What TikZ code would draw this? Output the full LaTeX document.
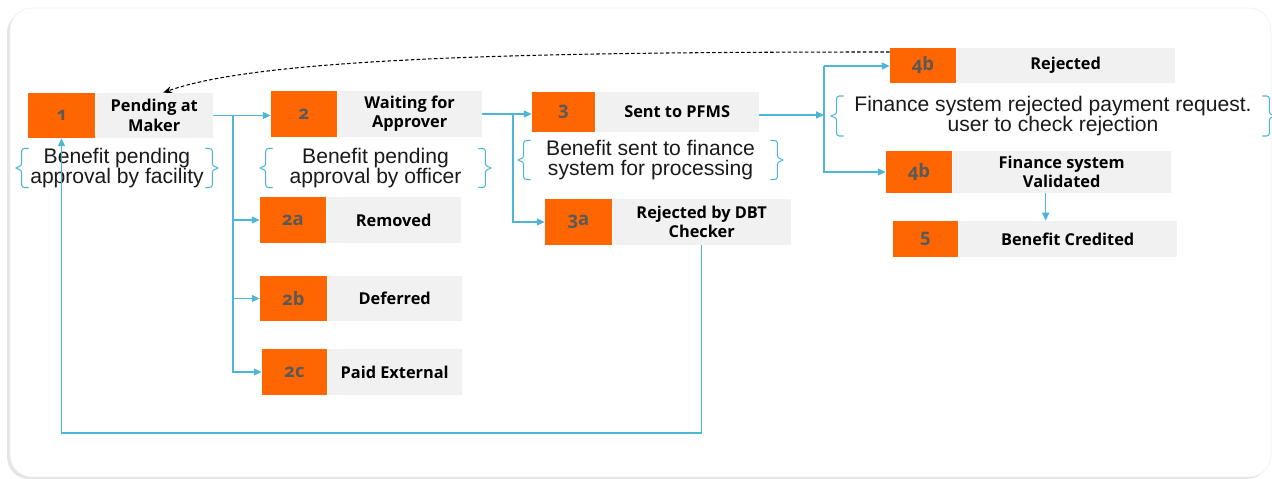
\documentclass[tikz,border=0pt]{standalone}
\usepackage{fontspec}
\setmainfont{Liberation Sans}
\newfontfamily\lblfamily{Open Sans}
\newfontfamily\numfamily[Numbers=OldStyle]{Open Sans}
\usetikzlibrary{arrows.meta}

\definecolor{boxorange}{HTML}{FF6600}
\definecolor{boxgrey}{HTML}{F1F1F1}
\definecolor{linkblue}{HTML}{4DB6D6}
\definecolor{numgrey}{HTML}{595959}
\definecolor{notetext}{HTML}{1A1A1A}

\tikzset{
  numbox/.style={fill=boxorange, text=numgrey, inner sep=0pt,
    font=\numfamily\bfseries\fontsize{10.5pt}{12pt}\selectfont},
  lblbox/.style={fill=boxgrey, anchor=west, align=center, inner sep=0pt,
    font=\lblfamily\bfseries\fontsize{9.3pt}{11pt}\selectfont},
  note/.style={text=notetext, align=center, inner sep=0pt,
    font=\fontsize{12pt}{11.3pt}\selectfont},
  link/.style={draw=linkblue, line width=0.7pt, -{Triangle[length=4.5pt,width=4pt]}},
  brc/.style={draw=linkblue, line width=0.6pt, rounded corners=1.5pt},
  lbr/.style={insert path={-- ++(-7,0) -- ++(0,#1) -- ++(-7,2) -- ++(7,2) -- ++(0,#1) -- ++(7,0)}},
  rbr/.style={insert path={-- ++(7,0) -- ++(0,#1) -- ++(7,2) -- ++(-7,2) -- ++(0,#1) -- ++(-7,0)}},
}

\begin{document}
\begin{tikzpicture}[x=0.02cm, y=-0.02cm]
  \useasboundingbox (0,0) rectangle (1272,479);
  % panel
  \fill[black!10, rounded corners=0.44cm] (7,11) rectangle (1269,479);
  \filldraw[fill=white, draw=black!6, rounded corners=0.44cm] (10,8) rectangle (1271,477);

  % steps
  \node[numbox, minimum width=1.34cm, minimum height=0.9cm] (n1) at (61.5,115.5) {1};
  \node[lblbox, minimum width=2.34cm, minimum height=0.9cm] (s1) at (n1.east) {Pending at\\Maker};
  \node[numbox, minimum width=1.32cm, minimum height=0.92cm] (n2) at (304,114) {2};
  \node[lblbox, minimum width=2.88cm, minimum height=0.92cm] (s2) at (n2.east) {Waiting for\\Approver};
  \node[numbox, minimum width=1.32cm, minimum height=0.92cm] (n2a) at (293,220) {2a};
  \node[lblbox, minimum width=2.68cm, minimum height=0.92cm] (s2a) at (n2a.east) {Removed};
  \node[numbox, minimum width=1.34cm, minimum height=0.9cm] (n2b) at (293.5,298.5) {2b};
  \node[lblbox, minimum width=2.68cm, minimum height=0.9cm] (s2b) at (n2b.east) {Deferred};
  \node[numbox, minimum width=1.3cm, minimum height=0.92cm] (n2c) at (294.5,372) {2c};
  \node[lblbox, minimum width=2.68cm, minimum height=0.92cm] (s2c) at (n2c.east) {Paid External};
  \node[numbox, minimum width=1.26cm, minimum height=0.8cm] (n3) at (563.5,112) {3};
  \node[lblbox, minimum width=3.26cm, minimum height=0.8cm] (s3) at (n3.east) {Sent to PFMS};
  \node[numbox, minimum width=1.34cm, minimum height=0.92cm] (n3a) at (578.5,222) {3a};
  \node[lblbox, minimum width=3.56cm, minimum height=0.92cm] (s3a) at (n3a.east) {Rejected by DBT\\Checker};
  \node[numbox, minimum width=1.32cm, minimum height=0.7cm] (n4r) at (923,65.5) {4b};
  \node[lblbox, minimum width=4.36cm, minimum height=0.7cm] (s4r) at (n4r.east) {Rejected};
  \node[numbox, minimum width=1.32cm, minimum height=0.84cm] (n4v) at (919,172) {4b};
  \node[lblbox, minimum width=4.36cm, minimum height=0.84cm] (s4v) at (n4v.east) {Finance system\\Validated};
  \node[numbox, minimum width=1.3cm, minimum height=0.72cm] (n5) at (925.5,239) {5};
  \node[lblbox, minimum width=4.36cm, minimum height=0.72cm] (s5) at (n5.east) {Benefit Credited};

  % notes with braces
  \node[note, minimum width=3.52cm] (d1) at (117,168) {Benefit pending\\approval by facility};
  \node[note, minimum width=4.1cm] (d2) at (375.5,168) {Benefit pending\\approval by officer};
  \node[note, minimum width=4.78cm] (d3) at (650.5,160) {Benefit sent to finance\\system for processing};
  \node[note, minimum width=8.36cm] (d4) at (1053,116) {Finance system rejected payment request.\\user to check rejection};
  \draw[brc] ([yshift=0.39cm]d1.west) [lbr=17.5];
  \draw[brc] ([yshift=0.39cm]d1.east) [rbr=17.5];
  \draw[brc] ([yshift=0.39cm]d2.west) [lbr=17.5];
  \draw[brc] ([yshift=0.39cm]d2.east) [rbr=17.5];
  \draw[brc] ([yshift=0.39cm]d3.west) [lbr=17.5];
  \draw[brc] ([yshift=0.39cm]d3.east) [rbr=17.5];
  \draw[brc] ([yshift=0.4cm]d4.west) [lbr=18];
  \draw[brc] ([yshift=0.4cm]d4.east) [rbr=18];

  % flow
  \coordinate (b1) at (233,115.5);
  \coordinate (b2) at (513,114);
  \coordinate (b3) at (824,66);
  \coordinate (lp) at (0,433);
  \draw[link] (s1.east) -- (s1.east -| n2.west);
  \draw[link] (b1) |- (n2a.west);
  \draw[link] (b1) |- (n2b.west);
  \draw[link] (b1) |- (n2c.west);
  \draw[link] (s2.east) -- (s2.east -| n3.west);
  \draw[link] (b2) |- (n3a.west);
  \draw[link] ([yshift=-0.06cm]s3.east) -- ([yshift=-0.06cm]s3.east -| b3);
  \draw[link] (b3) -- (b3 -| n4r.west);
  \draw[link] (b3) |- (n4v.west);
  \draw[link] ([xshift=-0.32cm]s4v.south) -- ([xshift=-0.32cm]s4v.south |- s5.north);
  \draw[link] (s3a.south) -- (s3a.south |- lp) -| (n1.south);
  \draw[line width=0.6pt, dash pattern=on 2pt off 1.3pt, -{Stealth[length=5pt,width=4pt]}]
    ([yshift=0.27cm]n4r.west) .. controls +(-340,0) and +(100,-36) .. ([xshift=0.18cm]s1.north);
\end{tikzpicture}
\end{document}
